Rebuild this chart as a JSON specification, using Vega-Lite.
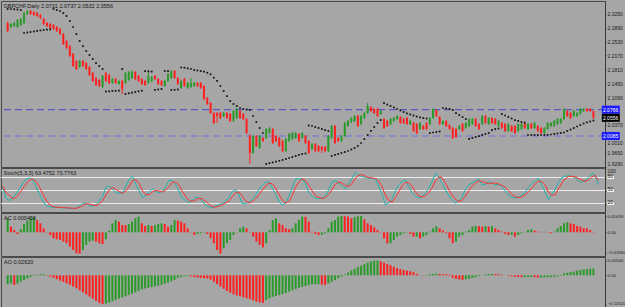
{
"$schema":"https://vega.github.io/schema/vega-lite/v6.json",
"padding":0,
"background":"#a6a6a6",
"spacing":1,
"bounds":"flush",
"config":{
"view":{"fill":"#a6a6a6","stroke":"#4a4a4a","strokeWidth":1},
"axis":{"labelFont":"Liberation Sans","labelFontSize":5,"labelColor":"#1a1a1a","tickColor":"#3a3a3a","domainColor":"#3a3a3a","tickSize":1,"labelPadding":1,"grid":false,"labelOverlap":false,"labelLimit":18,"labelBound":false,"tickCount":50},
"title":{"font":"Liberation Sans","fontSize":5.5,"fontWeight":"normal","color":"#141414","anchor":"start","offset":-8,"dx":3}
},
"datasets":{
"bars":[
{"i":0,"o":2.3010,"h":2.3040,"l":2.2775,"c":2.2803,"s":2.3372,"k":58,"d":60,"ac":0.0140,"ao":-0.0349},
{"i":1,"o":2.2906,"h":2.3010,"l":2.2880,"c":2.2984,"s":2.3372,"k":32,"d":45,"ac":0.0057,"ao":-0.0323},
{"i":2,"o":2.2932,"h":2.3036,"l":2.2906,"c":2.3010,"s":2.3367,"k":27,"d":39,"ac":0.0023,"ao":-0.0374},
{"i":3,"o":2.2906,"h":2.3113,"l":2.2880,"c":2.3087,"s":2.3359,"k":33,"d":31,"ac":-0.0017,"ao":-0.0323},
{"i":4,"o":2.2958,"h":2.3139,"l":2.2932,"c":2.3113,"s":2.3346,"k":42,"d":34,"ac":0.0030,"ao":-0.0245},
{"i":5,"o":2.3010,"h":2.3294,"l":2.2984,"c":2.3268,"s":2.2751,"k":53,"d":43,"ac":0.0083,"ao":-0.0187},
{"i":6,"o":2.3243,"h":2.3346,"l":2.3217,"c":2.3320,"s":2.2764,"k":66,"d":54,"ac":0.0117,"ao":-0.0121},
{"i":7,"o":2.3320,"h":2.3346,"l":2.3217,"c":2.3243,"s":2.2777,"k":76,"d":65,"ac":0.0143,"ao":-0.0065},
{"i":8,"o":2.3294,"h":2.3320,"l":2.3191,"c":2.3217,"s":2.2790,"k":79,"d":74,"ac":0.0150,"ao":-0.0018},
{"i":9,"o":2.3268,"h":2.3294,"l":2.3165,"c":2.3191,"s":2.2803,"k":75,"d":77,"ac":0.0123,"ao":0.0023},
{"i":10,"o":2.3217,"h":2.3243,"l":2.3113,"c":2.3139,"s":2.2816,"k":59,"d":71,"ac":0.0090,"ao":0.0039},
{"i":11,"o":2.3113,"h":2.3139,"l":2.2958,"c":2.2984,"s":2.2829,"k":43,"d":59,"ac":0.0040,"ao":0.0039},
{"i":12,"o":2.3010,"h":2.3036,"l":2.2906,"c":2.2932,"s":2.2836,"k":27,"d":43,"ac":0.0003,"ao":0.0013},
{"i":13,"o":2.2984,"h":2.3010,"l":2.2854,"c":2.2880,"s":2.2844,"k":15,"d":28,"ac":-0.0027,"ao":-0.0049},
{"i":14,"o":2.2958,"h":2.2984,"l":2.2829,"c":2.2854,"s":2.3372,"k":13,"d":18,"ac":-0.0060,"ao":-0.0097},
{"i":15,"o":2.2906,"h":2.2932,"l":2.2777,"c":2.2803,"s":2.3346,"k":11,"d":13,"ac":-0.0070,"ao":-0.0150},
{"i":16,"o":2.2854,"h":2.2880,"l":2.2699,"c":2.2725,"s":2.3320,"k":11,"d":12,"ac":-0.0077,"ao":-0.0207},
{"i":17,"o":2.2725,"h":2.2751,"l":2.2440,"c":2.2466,"s":2.3268,"k":11,"d":11,"ac":-0.0093,"ao":-0.0261},
{"i":18,"o":2.2544,"h":2.2570,"l":2.2337,"c":2.2363,"s":2.3191,"k":10,"d":11,"ac":-0.0110,"ao":-0.0314},
{"i":19,"o":2.2414,"h":2.2440,"l":2.2130,"c":2.2156,"s":2.3061,"k":10,"d":10,"ac":-0.0143,"ao":-0.0373},
{"i":20,"o":2.2207,"h":2.2233,"l":2.1871,"c":2.1897,"s":2.2906,"k":9,"d":10,"ac":-0.0177,"ao":-0.0438},
{"i":21,"o":2.2026,"h":2.2052,"l":2.1793,"c":2.1819,"s":2.2725,"k":8,"d":9,"ac":-0.0210,"ao":-0.0502},
{"i":22,"o":2.1871,"h":2.2052,"l":2.1845,"c":2.2026,"s":2.2544,"k":9,"d":9,"ac":-0.0213,"ao":-0.0583},
{"i":23,"o":2.2026,"h":2.2052,"l":2.1871,"c":2.1897,"s":2.2414,"k":15,"d":11,"ac":-0.0177,"ao":-0.0663},
{"i":24,"o":2.1974,"h":2.2000,"l":2.1793,"c":2.1819,"s":2.2285,"k":20,"d":15,"ac":-0.0127,"ao":-0.0745},
{"i":25,"o":2.1871,"h":2.1897,"l":2.1638,"c":2.1664,"s":2.2182,"k":21,"d":19,"ac":-0.0093,"ao":-0.0826},
{"i":26,"o":2.1716,"h":2.1742,"l":2.1483,"c":2.1509,"s":2.2078,"k":15,"d":19,"ac":-0.0083,"ao":-0.0907},
{"i":27,"o":2.1586,"h":2.1612,"l":2.1379,"c":2.1405,"s":2.1974,"k":14,"d":17,"ac":-0.0093,"ao":-0.0994},
{"i":28,"o":2.1535,"h":2.1561,"l":2.1353,"c":2.1379,"s":2.1897,"k":17,"d":15,"ac":-0.0110,"ao":-0.1072},
{"i":29,"o":2.1353,"h":2.1664,"l":2.1327,"c":2.1638,"s":2.1819,"k":26,"d":19,"ac":-0.0117,"ao":-0.1119},
{"i":30,"o":2.1716,"h":2.1742,"l":2.1483,"c":2.1509,"s":2.1237,"k":36,"d":26,"ac":-0.0070,"ao":-0.1097},
{"i":31,"o":2.1664,"h":2.1690,"l":2.1431,"c":2.1457,"s":2.1242,"k":57,"d":40,"ac":0.0017,"ao":-0.1053},
{"i":32,"o":2.1457,"h":2.1586,"l":2.1431,"c":2.1560,"s":2.1250,"k":60,"d":51,"ac":0.0090,"ao":-0.1007},
{"i":33,"o":2.1560,"h":2.1586,"l":2.1431,"c":2.1457,"s":2.1255,"k":54,"d":57,"ac":0.0123,"ao":-0.0955},
{"i":34,"o":2.1431,"h":2.1535,"l":2.1405,"c":2.1509,"s":2.1260,"k":45,"d":53,"ac":0.0107,"ao":-0.0901},
{"i":35,"o":2.1509,"h":2.1535,"l":2.1172,"c":2.1302,"s":2.1819,"k":44,"d":48,"ac":0.0073,"ao":-0.0856},
{"i":36,"o":2.1457,"h":2.1742,"l":2.1431,"c":2.1716,"s":2.1172,"k":44,"d":44,"ac":0.0071,"ao":-0.0813},
{"i":37,"o":2.1535,"h":2.1768,"l":2.1509,"c":2.1742,"s":2.1190,"k":60,"d":49,"ac":0.0083,"ao":-0.0764},
{"i":38,"o":2.1586,"h":2.1793,"l":2.1560,"c":2.1742,"s":2.1208,"k":76,"d":60,"ac":0.0107,"ao":-0.0710},
{"i":39,"o":2.1742,"h":2.1768,"l":2.1535,"c":2.1560,"s":2.1224,"k":83,"d":73,"ac":0.0140,"ao":-0.0656},
{"i":40,"o":2.1638,"h":2.1664,"l":2.1483,"c":2.1509,"s":2.1242,"k":65,"d":75,"ac":0.0157,"ao":-0.0602},
{"i":41,"o":2.1560,"h":2.1586,"l":2.1405,"c":2.1431,"s":2.1257,"k":49,"d":66,"ac":0.0090,"ao":-0.0549},
{"i":42,"o":2.1509,"h":2.1535,"l":2.1379,"c":2.1405,"s":2.1767,"k":34,"d":49,"ac":0.0063,"ao":-0.0511},
{"i":43,"o":2.1457,"h":2.1742,"l":2.1431,"c":2.1638,"s":2.1760,"k":39,"d":41,"ac":0.0073,"ao":-0.0485},
{"i":44,"o":2.1509,"h":2.1638,"l":2.1483,"c":2.1612,"s":2.1752,"k":47,"d":40,"ac":0.0063,"ao":-0.0458},
{"i":45,"o":2.1638,"h":2.1664,"l":2.1535,"c":2.1560,"s":2.1276,"k":54,"d":47,"ac":0.0073,"ao":-0.0431},
{"i":46,"o":2.1560,"h":2.1586,"l":2.1405,"c":2.1431,"s":2.1289,"k":48,"d":50,"ac":0.0083,"ao":-0.0404},
{"i":47,"o":2.1509,"h":2.1535,"l":2.1379,"c":2.1405,"s":2.1302,"k":45,"d":49,"ac":0.0090,"ao":-0.0368},
{"i":48,"o":2.1379,"h":2.1535,"l":2.1353,"c":2.1509,"s":2.1767,"k":48,"d":47,"ac":0.0083,"ao":-0.0330},
{"i":49,"o":2.1509,"h":2.1716,"l":2.1483,"c":2.1690,"s":2.1767,"k":59,"d":51,"ac":0.0057,"ao":-0.0284},
{"i":50,"o":2.1586,"h":2.1793,"l":2.1560,"c":2.1767,"s":2.1276,"k":74,"d":60,"ac":0.0073,"ao":-0.0230},
{"i":51,"o":2.1767,"h":2.1793,"l":2.1560,"c":2.1586,"s":2.1281,"k":73,"d":69,"ac":0.0123,"ao":-0.0176},
{"i":52,"o":2.1586,"h":2.1612,"l":2.1405,"c":2.1431,"s":2.1289,"k":64,"d":70,"ac":0.0117,"ao":-0.0099},
{"i":53,"o":2.1327,"h":2.1535,"l":2.1302,"c":2.1509,"s":2.1858,"k":48,"d":62,"ac":0.0107,"ao":-0.0062},
{"i":54,"o":2.1560,"h":2.1586,"l":2.1353,"c":2.1379,"s":2.1853,"k":32,"d":48,"ac":0.0090,"ao":-0.0037},
{"i":55,"o":2.1327,"h":2.1483,"l":2.1302,"c":2.1457,"s":2.1837,"k":27,"d":36,"ac":0.0040,"ao":-0.0031},
{"i":56,"o":2.1353,"h":2.1586,"l":2.1327,"c":2.1457,"s":2.1819,"k":22,"d":27,"ac":0.0003,"ao":-0.0045},
{"i":57,"o":2.1379,"h":2.1483,"l":2.1353,"c":2.1457,"s":2.1793,"k":27,"d":25,"ac":-0.0027,"ao":-0.0067},
{"i":58,"o":2.1457,"h":2.1483,"l":2.1353,"c":2.1379,"s":2.1780,"k":35,"d":28,"ac":-0.0017,"ao":-0.0088},
{"i":59,"o":2.1457,"h":2.1483,"l":2.1302,"c":2.1327,"s":2.1767,"k":33,"d":32,"ac":-0.0010,"ao":-0.0099},
{"i":60,"o":2.1379,"h":2.1405,"l":2.1017,"c":2.1043,"s":2.1749,"k":26,"d":31,"ac":-0.0003,"ao":-0.0111},
{"i":61,"o":2.1069,"h":2.1095,"l":2.0887,"c":2.0913,"s":2.1723,"k":16,"d":25,"ac":-0.0017,"ao":-0.0127},
{"i":62,"o":2.0939,"h":2.0965,"l":2.0654,"c":2.0680,"s":2.1682,"k":12,"d":18,"ac":-0.0060,"ao":-0.0168},
{"i":63,"o":2.0680,"h":2.0706,"l":2.0396,"c":2.0422,"s":2.1594,"k":10,"d":13,"ac":-0.0110,"ao":-0.0256},
{"i":64,"o":2.0680,"h":2.0706,"l":2.0422,"c":2.0603,"s":2.1509,"k":14,"d":12,"ac":-0.0177,"ao":-0.0341},
{"i":65,"o":2.0680,"h":2.0706,"l":2.0525,"c":2.0551,"s":2.1379,"k":18,"d":14,"ac":-0.0213,"ao":-0.0432},
{"i":66,"o":2.0603,"h":2.0706,"l":2.0577,"c":2.0680,"s":2.1250,"k":20,"d":17,"ac":-0.0160,"ao":-0.0524},
{"i":67,"o":2.0680,"h":2.0706,"l":2.0525,"c":2.0551,"s":2.1120,"k":25,"d":21,"ac":-0.0110,"ao":-0.0607},
{"i":68,"o":2.0655,"h":2.0680,"l":2.0447,"c":2.0473,"s":2.0991,"k":34,"d":26,"ac":-0.0077,"ao":-0.0676},
{"i":69,"o":2.0473,"h":2.0758,"l":2.0447,"c":2.0732,"s":2.0913,"k":48,"d":36,"ac":-0.0027,"ao":-0.0741},
{"i":70,"o":2.0551,"h":2.0810,"l":2.0525,"c":2.0784,"s":2.0862,"k":52,"d":45,"ac":0.0003,"ao":-0.0778},
{"i":71,"o":2.0732,"h":2.0758,"l":2.0525,"c":2.0551,"s":2.0810,"k":40,"d":47,"ac":0.0040,"ao":-0.0816},
{"i":72,"o":2.0655,"h":2.0680,"l":2.0499,"c":2.0525,"s":2.0784,"k":19,"d":37,"ac":0.0057,"ao":-0.0852},
{"i":73,"o":2.0525,"h":2.0551,"l":2.0137,"c":2.0163,"s":2.0771,"k":20,"d":26,"ac":0.0040,"ao":-0.0892},
{"i":74,"o":2.0085,"h":2.0137,"l":1.9361,"c":1.9645,"s":2.0758,"k":23,"d":21,"ac":-0.0003,"ao":-0.0930},
{"i":75,"o":1.9645,"h":2.0111,"l":1.9620,"c":2.0085,"s":2.0603,"k":30,"d":24,"ac":-0.0043,"ao":-0.0975},
{"i":76,"o":2.0085,"h":2.0111,"l":1.9800,"c":1.9826,"s":2.0447,"k":39,"d":31,"ac":-0.0093,"ao":-0.1019},
{"i":77,"o":1.9775,"h":2.0111,"l":1.9749,"c":2.0085,"s":2.0292,"k":52,"d":40,"ac":-0.0127,"ao":-0.1050},
{"i":78,"o":2.0034,"h":2.0060,"l":1.9930,"c":1.9956,"s":2.0163,"k":62,"d":51,"ac":-0.0150,"ao":-0.1066},
{"i":79,"o":2.0034,"h":2.0292,"l":2.0008,"c":2.0266,"s":1.9361,"k":70,"d":61,"ac":-0.0110,"ao":-0.0958},
{"i":80,"o":2.0163,"h":2.0318,"l":2.0137,"c":2.0292,"s":1.9382,"k":70,"d":67,"ac":0.0023,"ao":-0.0892},
{"i":81,"o":2.0266,"h":2.0292,"l":1.9878,"c":1.9904,"s":1.9402,"k":57,"d":66,"ac":0.0123,"ao":-0.0834},
{"i":82,"o":2.0085,"h":2.0111,"l":1.9930,"c":1.9956,"s":1.9423,"k":42,"d":56,"ac":0.0140,"ao":-0.0802},
{"i":83,"o":2.0034,"h":2.0060,"l":1.9800,"c":1.9826,"s":1.9444,"k":25,"d":41,"ac":0.0090,"ao":-0.0769},
{"i":84,"o":1.9956,"h":1.9982,"l":1.9671,"c":1.9697,"s":1.9464,"k":16,"d":28,"ac":0.0073,"ao":-0.0728},
{"i":85,"o":1.9697,"h":2.0034,"l":1.9671,"c":2.0008,"s":1.9490,"k":22,"d":21,"ac":0.0040,"ao":-0.0684},
{"i":86,"o":1.9956,"h":2.0163,"l":1.9930,"c":2.0137,"s":1.9516,"k":37,"d":25,"ac":0.0030,"ao":-0.0638},
{"i":87,"o":2.0008,"h":2.0189,"l":1.9982,"c":2.0163,"s":1.9542,"k":56,"d":38,"ac":0.0040,"ao":-0.0583},
{"i":88,"o":2.0034,"h":2.0189,"l":2.0008,"c":2.0163,"s":1.9568,"k":77,"d":57,"ac":0.0090,"ao":-0.0529},
{"i":89,"o":2.0137,"h":2.0163,"l":1.9930,"c":1.9956,"s":1.9594,"k":77,"d":70,"ac":0.0123,"ao":-0.0491},
{"i":90,"o":2.0034,"h":2.0189,"l":2.0008,"c":2.0163,"s":1.9619,"k":77,"d":77,"ac":0.0157,"ao":-0.0454},
{"i":91,"o":2.0085,"h":2.0111,"l":1.9878,"c":1.9904,"s":1.9632,"k":65,"d":73,"ac":0.0155,"ao":-0.0416},
{"i":92,"o":1.9956,"h":1.9982,"l":1.9620,"c":1.9645,"s":2.0357,"k":45,"d":62,"ac":0.0107,"ao":-0.0378},
{"i":93,"o":1.9749,"h":1.9904,"l":1.9723,"c":1.9878,"s":2.0344,"k":37,"d":49,"ac":0.0007,"ao":-0.0349},
{"i":94,"o":1.9878,"h":1.9904,"l":1.9671,"c":1.9697,"s":2.0318,"k":32,"d":38,"ac":-0.0017,"ao":-0.0349},
{"i":95,"o":1.9826,"h":1.9852,"l":1.9671,"c":1.9697,"s":2.0292,"k":32,"d":34,"ac":-0.0027,"ao":-0.0349},
{"i":96,"o":1.9800,"h":1.9826,"l":1.9645,"c":1.9723,"s":2.0266,"k":32,"d":32,"ac":-0.0025,"ao":-0.0361},
{"i":97,"o":1.9800,"h":1.9826,"l":1.9671,"c":1.9697,"s":2.0240,"k":38,"d":34,"ac":-0.0010,"ao":-0.0374},
{"i":98,"o":1.9697,"h":2.0111,"l":1.9671,"c":2.0085,"s":2.0215,"k":52,"d":41,"ac":0.0040,"ao":-0.0316},
{"i":99,"o":2.0034,"h":2.0370,"l":2.0008,"c":2.0344,"s":1.9568,"k":70,"d":53,"ac":0.0107,"ao":-0.0254},
{"i":100,"o":2.0344,"h":2.0370,"l":1.9878,"c":1.9904,"s":1.9594,"k":73,"d":65,"ac":0.0123,"ao":-0.0185},
{"i":101,"o":2.0034,"h":2.0060,"l":1.9930,"c":1.9956,"s":1.9619,"k":68,"d":70,"ac":0.0157,"ao":-0.0114},
{"i":102,"o":1.9956,"h":2.0111,"l":1.9930,"c":2.0085,"s":1.9645,"k":61,"d":67,"ac":0.0163,"ao":-0.0049},
{"i":103,"o":2.0085,"h":2.0447,"l":2.0060,"c":2.0422,"s":1.9671,"k":54,"d":61,"ac":0.0162,"ao":0.0028},
{"i":104,"o":2.0344,"h":2.0499,"l":2.0318,"c":2.0473,"s":1.9697,"k":66,"d":60,"ac":0.0157,"ao":0.0110},
{"i":105,"o":2.0447,"h":2.0577,"l":2.0422,"c":2.0551,"s":1.9736,"k":78,"d":66,"ac":0.0140,"ao":0.0182},
{"i":106,"o":2.0473,"h":2.0628,"l":2.0447,"c":2.0603,"s":1.9775,"k":92,"d":79,"ac":0.0150,"ao":0.0253},
{"i":107,"o":2.0603,"h":2.0628,"l":2.0318,"c":2.0344,"s":1.9826,"k":86,"d":85,"ac":0.0160,"ao":0.0325},
{"i":108,"o":2.0396,"h":2.0628,"l":2.0370,"c":2.0603,"s":1.9904,"k":82,"d":87,"ac":0.0163,"ao":0.0378},
{"i":109,"o":2.0551,"h":2.0706,"l":2.0525,"c":2.0680,"s":2.0008,"k":80,"d":83,"ac":0.0130,"ao":0.0430},
{"i":110,"o":2.0680,"h":2.0939,"l":2.0654,"c":2.0862,"s":2.0111,"k":78,"d":80,"ac":0.0090,"ao":0.0487},
{"i":111,"o":2.0836,"h":2.0862,"l":2.0706,"c":2.0732,"s":2.0215,"k":78,"d":79,"ac":0.0073,"ao":0.0538},
{"i":112,"o":2.0784,"h":2.0810,"l":2.0654,"c":2.0680,"s":2.0318,"k":77,"d":78,"ac":0.0050,"ao":0.0573},
{"i":113,"o":2.0784,"h":2.0810,"l":2.0577,"c":2.0603,"s":2.0422,"k":60,"d":72,"ac":0.0023,"ao":0.0578},
{"i":114,"o":2.0655,"h":2.0758,"l":2.0628,"c":2.0732,"s":2.0499,"k":41,"d":59,"ac":-0.0003,"ao":0.0541},
{"i":115,"o":2.0525,"h":2.0551,"l":2.0266,"c":2.0292,"s":2.0939,"k":17,"d":39,"ac":-0.0060,"ao":0.0491},
{"i":116,"o":2.0473,"h":2.0499,"l":2.0318,"c":2.0344,"s":2.0900,"k":22,"d":27,"ac":-0.0110,"ao":0.0440},
{"i":117,"o":2.0396,"h":2.0551,"l":2.0370,"c":2.0525,"s":2.0862,"k":30,"d":23,"ac":-0.0108,"ao":0.0390},
{"i":118,"o":2.0473,"h":2.0577,"l":2.0447,"c":2.0551,"s":2.0823,"k":49,"d":34,"ac":-0.0077,"ao":0.0336},
{"i":119,"o":2.0525,"h":2.0628,"l":2.0499,"c":2.0603,"s":2.0784,"k":63,"d":47,"ac":-0.0043,"ao":0.0278},
{"i":120,"o":2.0577,"h":2.0603,"l":2.0396,"c":2.0422,"s":2.0745,"k":70,"d":61,"ac":-0.0027,"ao":0.0239},
{"i":121,"o":2.0525,"h":2.0551,"l":2.0396,"c":2.0422,"s":2.0706,"k":75,"d":69,"ac":-0.0010,"ao":0.0204},
{"i":122,"o":2.0551,"h":2.0577,"l":2.0370,"c":2.0396,"s":2.0668,"k":59,"d":68,"ac":-0.0003,"ao":0.0183},
{"i":123,"o":2.0396,"h":2.0499,"l":2.0370,"c":2.0473,"s":2.0642,"k":45,"d":60,"ac":-0.0017,"ao":0.0158},
{"i":124,"o":2.0422,"h":2.0447,"l":2.0189,"c":2.0215,"s":2.0616,"k":37,"d":47,"ac":-0.0043,"ao":0.0121},
{"i":125,"o":2.0396,"h":2.0422,"l":2.0137,"c":2.0163,"s":2.0590,"k":33,"d":38,"ac":-0.0042,"ao":0.0056},
{"i":126,"o":2.0266,"h":2.0447,"l":2.0240,"c":2.0422,"s":2.0569,"k":36,"d":35,"ac":-0.0060,"ao":0.0003},
{"i":127,"o":2.0344,"h":2.0370,"l":2.0240,"c":2.0266,"s":2.0551,"k":44,"d":38,"ac":-0.0043,"ao":-0.0010},
{"i":128,"o":2.0422,"h":2.0447,"l":2.0240,"c":2.0266,"s":2.0538,"k":55,"d":45,"ac":-0.0027,"ao":0.0019},
{"i":129,"o":2.0396,"h":2.0577,"l":2.0370,"c":2.0551,"s":2.0163,"k":70,"d":56,"ac":0.0007,"ao":0.0044},
{"i":130,"o":2.0551,"h":2.0810,"l":2.0525,"c":2.0784,"s":2.0176,"k":90,"d":72,"ac":0.0040,"ao":0.0057},
{"i":131,"o":2.0758,"h":2.0784,"l":2.0577,"c":2.0603,"s":2.0189,"k":82,"d":81,"ac":0.0063,"ao":0.0061},
{"i":132,"o":2.0577,"h":2.0603,"l":2.0370,"c":2.0396,"s":2.0202,"k":69,"d":80,"ac":0.0040,"ao":0.0053},
{"i":133,"o":2.0396,"h":2.0499,"l":2.0370,"c":2.0473,"s":2.0810,"k":52,"d":68,"ac":0.0017,"ao":0.0045},
{"i":134,"o":2.0473,"h":2.0499,"l":2.0318,"c":2.0344,"s":2.0797,"k":39,"d":53,"ac":-0.0010,"ao":0.0039},
{"i":135,"o":2.0370,"h":2.0396,"l":2.0240,"c":2.0266,"s":2.0784,"k":29,"d":40,"ac":-0.0060,"ao":-0.0026},
{"i":136,"o":2.0292,"h":2.0318,"l":2.0008,"c":2.0034,"s":2.0758,"k":21,"d":30,"ac":-0.0110,"ao":-0.0097},
{"i":137,"o":2.0266,"h":2.0292,"l":2.0034,"c":2.0060,"s":2.0680,"k":26,"d":25,"ac":-0.0093,"ao":-0.0139},
{"i":138,"o":2.0266,"h":2.0370,"l":2.0240,"c":2.0344,"s":2.0628,"k":34,"d":27,"ac":-0.0043,"ao":-0.0163},
{"i":139,"o":2.0396,"h":2.0422,"l":2.0189,"c":2.0215,"s":2.0577,"k":52,"d":37,"ac":-0.0027,"ao":-0.0177},
{"i":140,"o":2.0292,"h":2.0447,"l":2.0266,"c":2.0422,"s":2.0525,"k":62,"d":49,"ac":0.0007,"ao":-0.0156},
{"i":141,"o":2.0344,"h":2.0551,"l":2.0318,"c":2.0525,"s":2.0008,"k":67,"d":60,"ac":0.0023,"ao":-0.0134},
{"i":142,"o":2.0396,"h":2.0551,"l":2.0370,"c":2.0525,"s":2.0034,"k":72,"d":67,"ac":0.0057,"ao":-0.0107},
{"i":143,"o":2.0525,"h":2.0551,"l":2.0318,"c":2.0344,"s":2.0060,"k":77,"d":72,"ac":0.0063,"ao":-0.0079},
{"i":144,"o":2.0396,"h":2.0422,"l":2.0240,"c":2.0266,"s":2.0085,"k":63,"d":71,"ac":0.0062,"ao":-0.0032},
{"i":145,"o":2.0396,"h":2.0628,"l":2.0370,"c":2.0603,"s":2.0111,"k":64,"d":68,"ac":0.0057,"ao":-0.0006},
{"i":146,"o":2.0603,"h":2.0628,"l":2.0396,"c":2.0422,"s":2.0137,"k":71,"d":66,"ac":0.0063,"ao":0.0037},
{"i":147,"o":2.0396,"h":2.0577,"l":2.0370,"c":2.0551,"s":2.0163,"k":67,"d":67,"ac":0.0057,"ao":0.0045},
{"i":148,"o":2.0551,"h":2.0577,"l":2.0396,"c":2.0422,"s":2.0240,"k":63,"d":67,"ac":0.0063,"ao":0.0050},
{"i":149,"o":2.0525,"h":2.0551,"l":2.0370,"c":2.0396,"s":2.0266,"k":64,"d":65,"ac":0.0040,"ao":0.0045},
{"i":150,"o":2.0344,"h":2.0499,"l":2.0318,"c":2.0473,"s":2.0279,"k":60,"d":62,"ac":0.0023,"ao":0.0040},
{"i":151,"o":2.0422,"h":2.0447,"l":2.0266,"c":2.0292,"s":2.0655,"k":49,"d":58,"ac":0.0007,"ao":0.0022},
{"i":152,"o":2.0396,"h":2.0422,"l":2.0189,"c":2.0215,"s":2.0616,"k":40,"d":50,"ac":-0.0017,"ao":0.0003},
{"i":153,"o":2.0215,"h":2.0422,"l":2.0189,"c":2.0396,"s":2.0577,"k":34,"d":41,"ac":-0.0027,"ao":-0.0022},
{"i":154,"o":2.0344,"h":2.0370,"l":2.0189,"c":2.0215,"s":2.0538,"k":33,"d":36,"ac":-0.0026,"ao":-0.0043},
{"i":155,"o":2.0344,"h":2.0370,"l":2.0137,"c":2.0163,"s":2.0499,"k":34,"d":34,"ac":-0.0043,"ao":-0.0065},
{"i":156,"o":2.0215,"h":2.0409,"l":2.0189,"c":2.0396,"s":2.0473,"k":39,"d":35,"ac":-0.0027,"ao":-0.0070},
{"i":157,"o":2.0266,"h":2.0422,"l":2.0240,"c":2.0396,"s":2.0447,"k":46,"d":40,"ac":-0.0010,"ao":-0.0075},
{"i":158,"o":2.0396,"h":2.0422,"l":2.0266,"c":2.0292,"s":2.0430,"k":57,"d":47,"ac":0.0002,"ao":-0.0075},
{"i":159,"o":2.0266,"h":2.0422,"l":2.0240,"c":2.0396,"s":2.0111,"k":66,"d":56,"ac":0.0023,"ao":-0.0068},
{"i":160,"o":2.0396,"h":2.0422,"l":2.0266,"c":2.0292,"s":2.0111,"k":72,"d":65,"ac":0.0030,"ao":-0.0067},
{"i":161,"o":2.0292,"h":2.0447,"l":2.0266,"c":2.0422,"s":2.0111,"k":78,"d":72,"ac":0.0017,"ao":-0.0077},
{"i":162,"o":2.0344,"h":2.0370,"l":2.0189,"c":2.0215,"s":2.0111,"k":63,"d":71,"ac":0.0007,"ao":-0.0089},
{"i":163,"o":2.0292,"h":2.0318,"l":2.0137,"c":2.0163,"s":2.0111,"k":47,"d":63,"ac":0.0002,"ao":-0.0089},
{"i":164,"o":2.0163,"h":2.0318,"l":2.0137,"c":2.0292,"s":2.0111,"k":29,"d":46,"ac":0.0007,"ao":-0.0080},
{"i":165,"o":2.0266,"h":2.0447,"l":2.0240,"c":2.0422,"s":2.0116,"k":40,"d":39,"ac":-0.0003,"ao":-0.0075},
{"i":166,"o":2.0344,"h":2.0447,"l":2.0318,"c":2.0422,"s":2.0124,"k":52,"d":40,"ac":-0.0010,"ao":-0.0070},
{"i":167,"o":2.0344,"h":2.0499,"l":2.0318,"c":2.0473,"s":2.0137,"k":69,"d":54,"ac":0.0007,"ao":-0.0065},
{"i":168,"o":2.0396,"h":2.0551,"l":2.0370,"c":2.0525,"s":2.0150,"k":80,"d":67,"ac":0.0040,"ao":-0.0041},
{"i":169,"o":2.0422,"h":2.0551,"l":2.0396,"c":2.0525,"s":2.0163,"k":83,"d":77,"ac":0.0063,"ao":-0.0021},
{"i":170,"o":2.0525,"h":2.0810,"l":2.0499,"c":2.0784,"s":2.0176,"k":84,"d":82,"ac":0.0090,"ao":0.0077},
{"i":171,"o":2.0732,"h":2.0758,"l":2.0577,"c":2.0603,"s":2.0215,"k":83,"d":83,"ac":0.0100,"ao":0.0098},
{"i":172,"o":2.0680,"h":2.0706,"l":2.0525,"c":2.0551,"s":2.0253,"k":80,"d":82,"ac":0.0090,"ao":0.0124},
{"i":173,"o":2.0603,"h":2.0758,"l":2.0577,"c":2.0732,"s":2.0292,"k":72,"d":78,"ac":0.0083,"ao":0.0147},
{"i":174,"o":2.0603,"h":2.0706,"l":2.0577,"c":2.0680,"s":2.0331,"k":69,"d":74,"ac":0.0063,"ao":0.0178},
{"i":175,"o":2.0655,"h":2.0810,"l":2.0628,"c":2.0784,"s":2.0370,"k":73,"d":71,"ac":0.0057,"ao":0.0200},
{"i":176,"o":2.0732,"h":2.0810,"l":2.0706,"c":2.0784,"s":2.0409,"k":80,"d":74,"ac":0.0040,"ao":0.0227},
{"i":177,"o":2.0784,"h":2.0810,"l":2.0706,"c":2.0732,"s":2.0435,"k":89,"d":81,"ac":0.0039,"ao":0.0243},
{"i":178,"o":2.0784,"h":2.0810,"l":2.0706,"c":2.0732,"s":2.0460,"k":86,"d":85,"ac":0.0023,"ao":0.0255},
{"i":179,"o":2.0731,"h":2.0737,"l":2.0532,"c":2.0556,"s":2.0486,"k":63.48,"d":73.78,"ac":0.00046,"ao":0.0262}
],
"levels":[{"p":2.0766,"lab":"2.0766"},{"p":2.0085,"lab":"2.0085"}],
"last":[{"p":2.0556,"lab":"2.0556"}],
"stochLevels":[{"v":80},{"v":50},{"v":20}]
},
"vconcat":[
{
"width":604,"height":166,
"title":{"text":"GBPCHF,Daily  2.0731 2.0737 2.0532 2.0556"},
"layer":[
{"data":{"name":"levels"},"mark":{"type":"rule","strokeDash":[7,4],"strokeWidth":1},
"encoding":{"y":{"field":"p","type":"quantitative","title":null,"scale":{"domain":[1.9283,2.3579],"nice":false,"zero":false},
"axis":{"orient":"right","title":null,"tickCount":50,"labelOverlap":false,"labelSeparation":0,"values":[2.325,2.289,2.253,2.217,2.181,2.145,2.109,2.037,2.001,1.965,1.929],"format":".4f",
"labelBaseline":{"condition":{"test":"datum.value < 1.94","value":"bottom"},"value":"middle"},
"labelOffset":{"condition":{"test":"datum.value > 2.0 && datum.value < 2.002","value":4},"value":0}}},
"color":{"field":"lab","type":"nominal","scale":{"domain":["2.0766","2.0085"],"range":["#4848c8","#7272e2"]},"legend":null}}},
{"data":{"name":"bars"},"mark":{"type":"rule","strokeWidth":1},
"encoding":{"x":{"field":"i","type":"quantitative","scale":{"domain":[-0.51,181],"nice":false,"zero":false},"axis":null},
"y":{"field":"l","type":"quantitative","title":null,"scale":{"domain":[1.9283,2.3579],"nice":false,"zero":false}},"y2":{"field":"h"},
"color":{"condition":{"test":"datum.c >= datum.o","value":"#2a9a2a"},"value":"#ff2020"}}},
{"data":{"name":"bars"},"mark":{"type":"bar","width":2},
"encoding":{"x":{"field":"i","type":"quantitative","scale":{"domain":[-0.51,181],"nice":false,"zero":false},"axis":null},
"y":{"field":"o","type":"quantitative","title":null,"scale":{"domain":[1.9283,2.3579],"nice":false,"zero":false}},"y2":{"field":"c"},
"color":{"condition":{"test":"datum.c >= datum.o","value":"#2a9a2a"},"value":"#ff2020"}}},
{"data":{"name":"bars"},"mark":{"type":"square","size":3,"filled":true,"color":"#101010","opacity":1},
"encoding":{"x":{"field":"i","type":"quantitative","scale":{"domain":[-0.51,181],"nice":false,"zero":false},"axis":null},
"y":{"field":"s","type":"quantitative","title":null,"scale":{"domain":[1.9283,2.3579],"nice":false,"zero":false}}}},
{"data":{"name":"levels"},"mark":{"type":"point","shape":"M-1,-0.45H1V0.45H-1Z","size":324,"filled":true,"color":"#1c1cff","opacity":1},
"encoding":{"x":{"datum":184.3,"type":"quantitative","scale":{"domain":[-0.51,181],"nice":false,"zero":false},"axis":null},
"y":{"field":"p","type":"quantitative","title":null,"scale":{"domain":[1.9283,2.3579],"nice":false,"zero":false}}}},
{"data":{"name":"levels"},"mark":{"type":"text","align":"left","baseline":"middle","fontSize":5,"font":"Liberation Sans","color":"#ffffff"},
"encoding":{"x":{"datum":181.9,"type":"quantitative","scale":{"domain":[-0.51,181],"nice":false,"zero":false},"axis":null},
"y":{"field":"p","type":"quantitative","title":null,"scale":{"domain":[1.9283,2.3579],"nice":false,"zero":false}},"text":{"field":"lab"}}},
{"data":{"name":"last"},"mark":{"type":"point","shape":"M-1,-0.45H1V0.45H-1Z","size":324,"filled":true,"color":"#000000","opacity":1},
"encoding":{"x":{"datum":184.3,"type":"quantitative","scale":{"domain":[-0.51,181],"nice":false,"zero":false},"axis":null},
"y":{"field":"p","type":"quantitative","title":null,"scale":{"domain":[1.9283,2.3579],"nice":false,"zero":false}}}},
{"data":{"name":"last"},"mark":{"type":"text","align":"left","baseline":"middle","fontSize":5,"font":"Liberation Sans","color":"#ffffff"},
"encoding":{"x":{"datum":181.9,"type":"quantitative","scale":{"domain":[-0.51,181],"nice":false,"zero":false},"axis":null},
"y":{"field":"p","type":"quantitative","title":null,"scale":{"domain":[1.9283,2.3579],"nice":false,"zero":false}},"text":{"field":"lab"}}}
]
},
{
"width":604,"height":44,
"title":{"text":"Stoch(5,3,3) 63.4752 73.7763"},
"layer":[
{"data":{"name":"stochLevels"},"mark":{"type":"rule","color":"#f0f0f0","strokeWidth":1},
"encoding":{"y":{"field":"v","type":"quantitative","title":null,"scale":{"domain":[0.5,102],"nice":false,"zero":false},
"axis":{"orient":"right","title":null,"tickCount":50,"labelOverlap":false,"labelSeparation":0,"values":[100,80,50,20,0],"format":"d","zindex":1,
"labelBaseline":{"condition":{"test":"datum.value > 99","value":"top"},"value":{"expr":"datum.value < 1 ? 'bottom' : 'middle'"}}}}}},
{"data":{"name":"stochLevels"},"mark":{"type":"point","shape":"M-1,-0.43H1V0.43H-1Z","size":49,"filled":true,"color":"#f4f4f4","opacity":1},
"encoding":{"x":{"datum":182.66,"type":"quantitative","scale":{"domain":[-0.51,181],"nice":false,"zero":false},"axis":null},
"y":{"field":"v","type":"quantitative","title":null,"scale":{"domain":[0.5,102],"nice":false,"zero":false}}}},
{"data":{"name":"bars"},"mark":{"type":"line","color":"#1fb3ad","strokeWidth":1},
"encoding":{"x":{"field":"i","type":"quantitative","scale":{"domain":[-0.51,181],"nice":false,"zero":false},"axis":null},
"y":{"field":"k","type":"quantitative","title":null,"scale":{"domain":[0.5,102],"nice":false,"zero":false}}}},
{"data":{"name":"bars"},"mark":{"type":"line","color":"#ff3030","strokeWidth":1},
"encoding":{"x":{"field":"i","type":"quantitative","scale":{"domain":[-0.51,181],"nice":false,"zero":false},"axis":null},
"y":{"field":"d","type":"quantitative","title":null,"scale":{"domain":[0.5,102],"nice":false,"zero":false}}}}
]
},
{
"width":604,"height":43,
"title":{"text":"AC 0.000456"},
"layer":[
{"mark":{"type":"rule","color":"#3c3c3c","strokeWidth":1},
"encoding":{"y":{"datum":0,"type":"quantitative","title":null,"scale":{"domain":[-0.0237,0.0193],"nice":false,"zero":false},
"axis":{"orient":"right","title":null,"tickCount":50,"labelOverlap":false,"labelSeparation":0,"labelFontSize":4.4,"labelLimit":20,"values":[0.0163,0,-0.0206],"labelExpr":"datum.value == 0 ? '0.00' : format(datum.value, '.5f')"}}}},
{"data":{"name":"bars"},
"transform":[{"window":[{"op":"lag","field":"ac","as":"acp"}],"sort":[{"field":"i"}]}],
"mark":{"type":"bar","width":2},
"encoding":{"x":{"field":"i","type":"quantitative","scale":{"domain":[-0.51,181],"nice":false,"zero":false},"axis":null},
"y":{"field":"ac","type":"quantitative","title":null,"scale":{"domain":[-0.0237,0.0193],"nice":false,"zero":false}},"y2":{"datum":0},
"color":{"condition":{"test":"datum.acp == null || datum.ac >= datum.acp","value":"#2a9a2a"},"value":"#ff2020"}}}
]
},
{
"width":604,"height":50,
"title":{"text":"AO 0.02620"},
"layer":[
{"mark":{"type":"rule","color":"#3c3c3c","strokeWidth":1},
"encoding":{"y":{"datum":0,"type":"quantitative","title":null,"scale":{"domain":[-0.1229,0.0709],"nice":false,"zero":false},
"axis":{"orient":"right","title":null,"tickCount":50,"labelOverlap":false,"labelSeparation":0,"labelFontSize":4.4,"labelLimit":20,"values":[0.0554,0,-0.1152],"labelExpr":"datum.value == 0 ? '0.00' : format(datum.value, '.5f')",
"labelBaseline":{"condition":{"test":"datum.value < -0.1","value":"bottom"},"value":"middle"}}}}},
{"data":{"name":"bars"},
"transform":[{"window":[{"op":"lag","field":"ao","as":"aop"}],"sort":[{"field":"i"}]}],
"mark":{"type":"bar","width":2},
"encoding":{"x":{"field":"i","type":"quantitative","scale":{"domain":[-0.51,181],"nice":false,"zero":false},"axis":null},
"y":{"field":"ao","type":"quantitative","title":null,"scale":{"domain":[-0.1229,0.0709],"nice":false,"zero":false}},"y2":{"datum":0},
"color":{"condition":{"test":"datum.aop == null || datum.ao >= datum.aop","value":"#2a9a2a"},"value":"#ff2020"}}}
]
}
]
}
